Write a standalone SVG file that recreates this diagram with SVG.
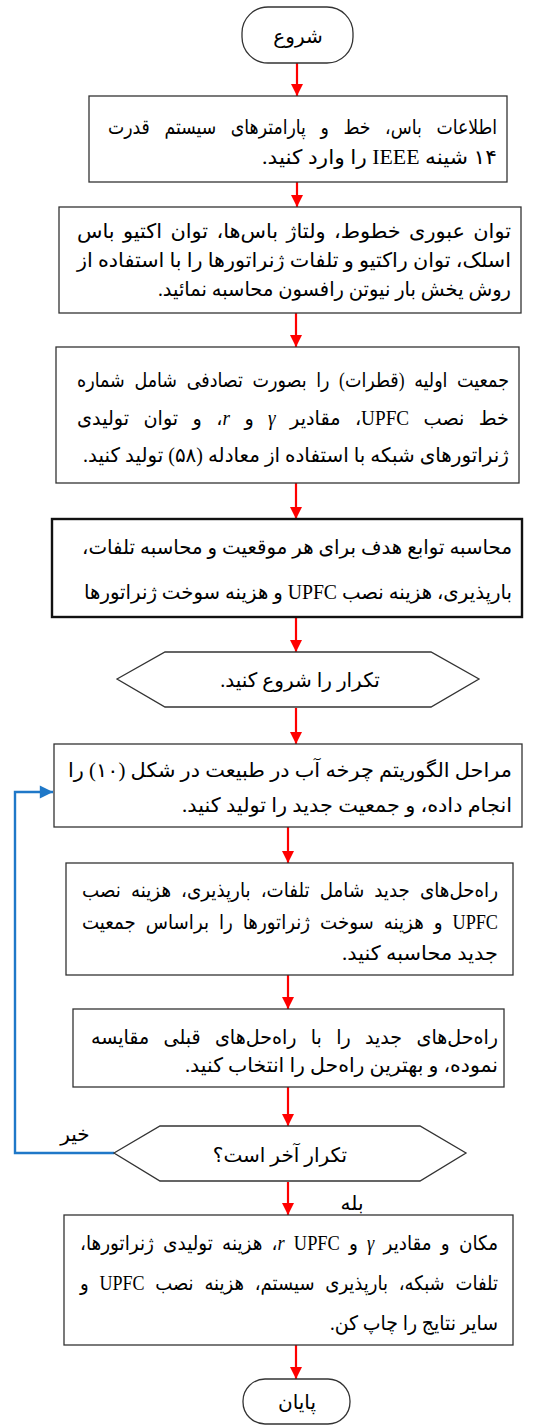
<svg xmlns="http://www.w3.org/2000/svg" width="537" height="1425" viewBox="0 0 537 1425">
<style>
.box{fill:#fff;stroke:#333;stroke-width:1.3}
.thick{fill:#fff;stroke:#111;stroke-width:2.4}
.t{font-family:"Liberation Serif","DejaVu Sans",serif;font-size:20px;fill:#000;direction:rtl;unicode-bidi:embed}
.c{text-anchor:middle}
.r{text-anchor:start}
.m{font-style:italic}
.red{stroke:#ff0000;stroke-width:2.2;fill:none}
.blue{stroke:#1f78c8;stroke-width:2.4;fill:none}
</style>
<defs>
<marker id="ar" viewBox="0 0 10 10" refX="10" refY="5" markerWidth="5.5" markerHeight="5.5" orient="auto" markerUnits="strokeWidth">
<path d="M0,0 L10,5 L0,10 z" fill="#ff0000"/>
</marker>
<marker id="ab" viewBox="0 0 10 10" refX="10" refY="5" markerWidth="6" markerHeight="5.5" orient="auto" markerUnits="strokeWidth">
<path d="M0,0 L10,5 L0,10 z" fill="#1f78c8"/>
</marker>
</defs>
<g id="connectors">
<line class="red" x1="297" y1="63" x2="297" y2="96" marker-end="url(#ar)"/>
<line class="red" x1="297" y1="182" x2="297" y2="207" marker-end="url(#ar)"/>
<line class="red" x1="296" y1="313" x2="296" y2="347" marker-end="url(#ar)"/>
<line class="red" x1="296" y1="483" x2="296" y2="519" marker-end="url(#ar)"/>
<line class="red" x1="296" y1="617" x2="296" y2="652" marker-end="url(#ar)"/>
<line class="red" x1="296" y1="708" x2="296" y2="744" marker-end="url(#ar)"/>
<line class="red" x1="288" y1="827" x2="288" y2="863" marker-end="url(#ar)"/>
<line class="red" x1="288" y1="975" x2="288" y2="1009" marker-end="url(#ar)"/>
<line class="red" x1="288" y1="1087" x2="288" y2="1126" marker-end="url(#ar)"/>
<line class="red" x1="288" y1="1182" x2="288" y2="1215" marker-end="url(#ar)"/>
<line class="red" x1="296" y1="1345" x2="296" y2="1379" marker-end="url(#ar)"/>
<path class="blue" d="M114,1153 H15 V792 H53" marker-end="url(#ab)"/>
<text class="t c" x="75" y="1141">خیر</text>
<text class="t c" x="352" y="1210">بله</text>
</g>
<g id="start">
<rect class="box" x="242" y="7" width="111" height="56" rx="26"/>
<text class="t c" x="298" y="43">شروع</text>
</g>
<g id="n1">
<rect class="box" x="89" y="96" width="418" height="86"/>
<text class="t r" x="497" y="134" word-spacing="12" textLength="389" lengthAdjust="spacingAndGlyphs">اطلاعات باس، خط و پارامترهای سیستم قدرت</text>
<text class="t r" x="497" y="164" textLength="235" lengthAdjust="spacingAndGlyphs">۱۴ شینه IEEE را وارد کنید.</text>
</g>
<g id="n2">
<rect class="box" x="59" y="207" width="462" height="106"/>
<text class="t r" x="511" y="238" word-spacing="3" textLength="434" lengthAdjust="spacingAndGlyphs">توان عبوری خطوط، ولتاژ باس‌ها، توان اکتیو باس</text>
<text class="t r" x="511" y="267" textLength="434" lengthAdjust="spacingAndGlyphs">اسلک، توان راکتیو و تلفات ژنراتورها را با استفاده از</text>
<text class="t r" x="511" y="296" textLength="353" lengthAdjust="spacingAndGlyphs">روش یخش بار نیوتن رافسون محاسبه نمائید.</text>
</g>
<g id="n3">
<rect class="box" x="56" y="347" width="463" height="136"/>
<text class="t r" x="509" y="387" word-spacing="6" textLength="432" lengthAdjust="spacingAndGlyphs">جمعیت اولیه (قطرات) را بصورت تصادفی شامل شماره</text>
<text class="t r" x="509" y="425" word-spacing="10" textLength="432" lengthAdjust="spacingAndGlyphs">خط نصب UPFC، مقادیر <tspan class="m">γ</tspan> و <tspan class="m">r</tspan>، و توان تولیدی</text>
<text class="t r" x="509" y="462" textLength="426" lengthAdjust="spacingAndGlyphs">ژنراتورهای شبکه با استفاده از معادله (۵۸) تولید کنید.</text>
</g>
<g id="n4">
<rect class="thick" x="52" y="519" width="470" height="98"/>
<text class="t r" x="512" y="554" textLength="430" lengthAdjust="spacingAndGlyphs">محاسبه توابع هدف برای هر موقعیت و محاسبه تلفات،</text>
<text class="t r" x="512" y="599" textLength="428" lengthAdjust="spacingAndGlyphs">بارپذیری، هزینه نصب UPFC و هزینه سوخت ژنراتورها</text>
</g>
<g id="n5">
<polygon class="box" points="117,679 165,652 431,652 479,679 431,707 165,707"/>
<text class="t c" x="300" y="687">تکرار را شروع کنید.</text>
</g>
<g id="n6">
<rect class="box" x="54" y="744" width="468" height="83"/>
<text class="t r" x="512" y="777" textLength="444" lengthAdjust="spacingAndGlyphs">مراحل الگوریتم چرخه آب در طبیعت در شکل (۱۰) را</text>
<text class="t r" x="512" y="812" textLength="330" lengthAdjust="spacingAndGlyphs">انجام داده، و جمعیت جدید را تولید کنید.</text>
</g>
<g id="n7">
<rect class="box" x="66" y="863" width="447" height="112"/>
<text class="t r" x="498" y="897" word-spacing="6" textLength="416" lengthAdjust="spacingAndGlyphs">راه‌حل‌های جدید شامل تلفات، بارپذیری، هزینه نصب</text>
<text class="t r" x="498" y="929" word-spacing="6" textLength="416" lengthAdjust="spacingAndGlyphs">UPFC و هزینه سوخت ژنراتورها را براساس جمعیت</text>
<text class="t r" x="498" y="960" textLength="156" lengthAdjust="spacingAndGlyphs">جدید محاسبه کنید.</text>
</g>
<g id="n8">
<rect class="box" x="73" y="1009" width="431" height="78"/>
<text class="t r" x="498" y="1044" word-spacing="10" textLength="407" lengthAdjust="spacingAndGlyphs">راه‌حل‌های جدید را با راه‌حل‌های قبلی مقایسه</text>
<text class="t r" x="498" y="1072" textLength="313" lengthAdjust="spacingAndGlyphs">نموده، و بهترین راه‌حل را انتخاب کنید.</text>
</g>
<g id="n9">
<polygon class="box" points="114,1153 160,1126 420,1126 466,1153 420,1181 160,1181"/>
<text class="t c" x="280" y="1162">تکرار آخر است؟</text>
</g>
<g id="n10">
<rect class="box" x="64" y="1215" width="449" height="130"/>
<text class="t r" x="498" y="1250" word-spacing="5" textLength="418" lengthAdjust="spacingAndGlyphs">مکان و مقادیر <tspan class="m">γ</tspan> و <tspan class="m">r</tspan> UPFC، هزینه تولیدی ژنراتورها،</text>
<text class="t r" x="498" y="1290" word-spacing="7" textLength="418" lengthAdjust="spacingAndGlyphs">تلفات شبکه، بارپذیری سیستم، هزینه نصب UPFC و</text>
<text class="t r" x="498" y="1330" textLength="168" lengthAdjust="spacingAndGlyphs">سایر نتایج را چاپ کن.</text>
</g>
<g id="end">
<rect class="box" x="243" y="1379" width="107" height="45" rx="22"/>
<text class="t c" x="297" y="1409">پایان</text>
</g>
</svg>
